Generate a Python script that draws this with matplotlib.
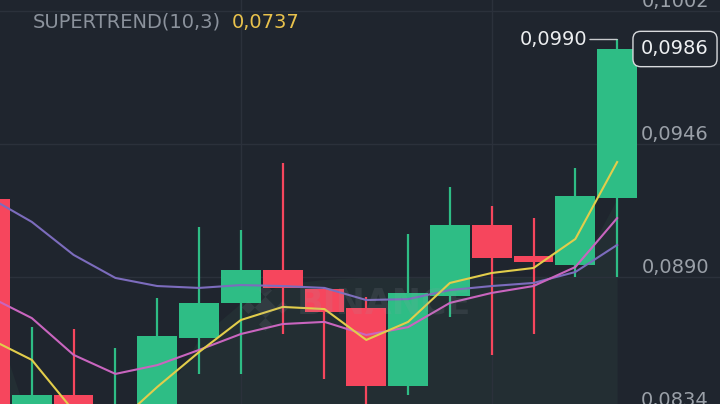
import numpy as np
import matplotlib
matplotlib.use('Agg')
import matplotlib.pyplot as plt

# candle data (price)
opens = [0.09228, 0.08300, 0.08403, 0.08200, 0.08300, 0.08643, 0.08791, 0.08929,
         0.08849, 0.08769, 0.08441, 0.08820, 0.09119, 0.08988, 0.08951, 0.09233]
closes = [0.08300, 0.08403, 0.08280, 0.08320, 0.08652, 0.08791, 0.08929, 0.08854,
          0.08753, 0.08441, 0.08833, 0.09119, 0.08980, 0.08963, 0.09241, 0.09860]
highs = [0.09300, 0.08689, 0.08681, 0.08601, 0.08812, 0.09111, 0.09098, 0.09380,
         0.08858, 0.08816, 0.09081, 0.09279, 0.09199, 0.09148, 0.09359, 0.09900]
lows = [0.08250, 0.08250, 0.08220, 0.08150, 0.08250, 0.08492, 0.08492, 0.08660,
        0.08471, 0.08300, 0.08403, 0.08732, 0.08572, 0.08660, 0.08900, 0.08900]

# moving averages
ma_yellow = [0.08639, 0.08551, 0.08336, 0.08277, 0.08437, 0.08584, 0.08719, 0.08774,
             0.08765, 0.08635, 0.08711, 0.08875, 0.08917, 0.08938, 0.09060, 0.09384]
ma_pink = [0.08816, 0.08727, 0.08572, 0.08492, 0.08529, 0.08593, 0.08660, 0.08702,
           0.08711, 0.08656, 0.08689, 0.08791, 0.08833, 0.08862, 0.08942, 0.09148]
ma_purple = [0.09233, 0.09132, 0.08993, 0.08896, 0.08862, 0.08854, 0.08866, 0.08862,
             0.08854, 0.08803, 0.08807, 0.08845, 0.08862, 0.08875, 0.08921, 0.09035]

# supertrend shaded band (upper edge)
st_fill = [0.0878, 0.0825, 0.0825, 0.0825, 0.0835, 0.0864, 0.0879, 0.0887,
           0.0889, 0.0890, 0.0890, 0.0890, 0.0890, 0.0890, 0.0890, 0.0923]

price_ticks = [0.0834, 0.0890, 0.0946, 0.1002]
last_price = 0.0986
st_value = 0.0737

bg = '#1f252e'
green = '#2ebd85'
red = '#f6465d'

fig = plt.figure(figsize=(7.2, 4.04), dpi=100, facecolor=bg)
ax = fig.add_axes([0, 0, 1, 1], facecolor=bg)
x = np.arange(len(opens))

# grid
ax.set_yticks(price_ticks)
ax.set_xticks([0, 6, 12])
ax.grid(color='#2b313b', lw=1)
ax.set_axisbelow(True)
ax.tick_params(length=0, labelleft=False, labelbottom=False)
for s in ax.spines.values():
    s.set_visible(False)

# shaded supertrend area
ax.fill_between(x, st_fill, 0.08, color='#232e33', lw=0, zorder=0.2)

# candles
cols = [green if c >= o else red for o, c in zip(opens, closes)]
ax.vlines(x, lows, highs, colors=cols, lw=1.6, zorder=2)
body = np.array(closes) - np.array(opens)
ax.bar(x, body, bottom=opens, width=0.95, color=cols, lw=0, zorder=2.1)

# moving averages
ax.plot(x, ma_purple, color='#7c6cbd', lw=1.5, zorder=3)
ax.plot(x, ma_pink, color='#c965bf', lw=1.5, zorder=3)
ax.plot(x, ma_yellow, color='#e2cd4b', lw=1.5, zorder=3)

# watermark
wm = dict(color='#9aa0a8', alpha=0.13)
ax.text(297 / 720, 1 - 304 / 404, 'BINANCE', transform=ax.transAxes, fontsize=25,
        fontweight='bold', va='center', ha='left', zorder=4, **wm)
ax.scatter([265 / 720], [1 - 307 / 404], marker='D', s=120, transform=ax.transAxes,
           lw=0, zorder=4, **wm)
for dx, dy in [(-17, 0), (17, 0), (0, -17), (0, 17)]:
    ax.scatter([(265 + dx) / 720], [1 - (307 + dy) / 404], marker='D', s=45,
               transform=ax.transAxes, lw=0, zorder=4, **wm)

ax.set_xlim(0.239, 17.46)
ax.set_ylim(0.083653, 0.100663)

# price axis labels
ytr = ax.get_yaxis_transform()
for v in price_ticks:
    ax.annotate(f'{v:.4f}'.replace('.', ','), xy=(709 / 720, v), xycoords=ytr,
                xytext=(0, 4), textcoords='offset pixels', ha='right', va='baseline',
                fontsize=14, color='#9aa0a8', zorder=5)

# last price tag
ax.text(675 / 720, last_price, f'{last_price:.4f}'.replace('.', ','), transform=ytr,
        ha='center', va='center', fontsize=14, color='#eef0f2', zorder=6,
        bbox=dict(boxstyle='round,pad=0.42,rounding_size=0.4', fc=bg, ec='#d8dadd', lw=1))

# high marker
ax.annotate(f'{highs[-1]:.4f}'.replace('.', ','), xy=(x[-1], highs[-1]),
            xytext=(-30, 0), textcoords='offset pixels', ha='right', va='center',
            fontsize=14, color='#eceef0', zorder=5,
            arrowprops=dict(arrowstyle='-', color='#c8cacd', lw=1, shrinkA=0, shrinkB=0,
                            relpos=(1, 0.5)))

# indicator legend
fig.text(33 / 720, 1 - 28 / 404, 'SUPERTREND(10,3)', va='baseline', fontsize=14,
         color='#8b929c')
fig.text(232 / 720, 1 - 28 / 404, f'{st_value:.4f}'.replace('.', ','), va='baseline',
         fontsize=14, color='#e9c24c')

fig.savefig('out.png', dpi=100, facecolor=bg)
